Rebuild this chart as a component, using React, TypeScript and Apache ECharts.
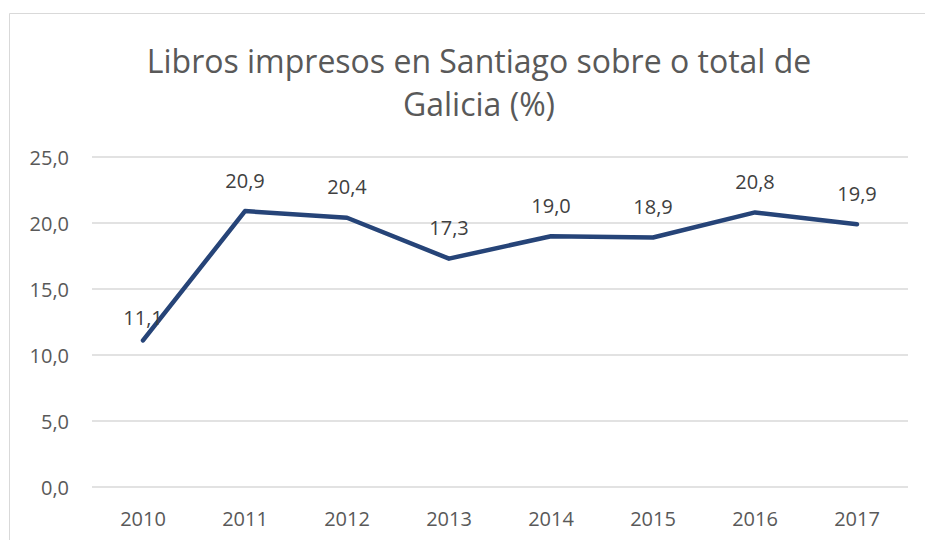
import React, { useEffect, useRef } from "react";
import * as echarts from "echarts";

const titleText = "Libros impresos en Santiago sobre o total de\nGalicia (%)";
const years = ["2010", "2011", "2012", "2013", "2014", "2015", "2016", "2017"];
const shares = [11.1, 20.9, 20.4, 17.3, 19.0, 18.9, 20.8, 19.9];
const yTicks = [0, 5, 10, 15, 20, 25];

const fmt = (v: number) => v.toFixed(1).replace(".", ",");

export default function App() {
  const ref = useRef<HTMLDivElement>(null);
  useEffect(() => {
    if (!ref.current) return;
    const chart = echarts.init(ref.current, null, { renderer: "svg" });
    chart.setOption({
      animation: false,
      backgroundColor: "#ffffff",
      textStyle: { fontFamily: "Open Sans" },
      title: {
        text: titleText,
        left: 474,
        textAlign: "center",
        top: 34,
        textStyle: {
          fontFamily: "Open Sans",
          fontSize: 32,
          fontWeight: "normal",
          color: "#595959",
          lineHeight: 43,
        },
      },
      graphic: [
        {
          type: "rect",
          shape: { x: 9.5, y: 13.5, width: 1000, height: 600 },
          style: { fill: "none", stroke: "#d9d9d9", lineWidth: 1 },
          silent: true,
        },
      ],
      grid: { left: 92, right: 17, top: 157, bottom: 53, containLabel: false },
      xAxis: {
        type: "category",
        data: years,
        boundaryGap: true,
        axisLine: { show: false },
        axisTick: { show: false },
        axisLabel: { color: "#595959", fontSize: 20, margin: 21, fontFamily: "Open Sans" },
      },
      yAxis: {
        type: "value",
        min: yTicks[0],
        max: yTicks[yTicks.length - 1],
        interval: 5,
        axisLine: { show: false },
        axisTick: { show: false },
        splitLine: { lineStyle: { color: "#d9d9d9", width: 1.5 } },
        axisLabel: {
          color: "#595959",
          fontSize: 20,
          margin: 23,
          fontFamily: "Open Sans",
          formatter: (v: number) => fmt(v),
        },
      },
      series: [
        {
          type: "line",
          data: shares.map((v, i) =>
            i === 0 ? { value: v, label: { offset: [0, 8] } } : v
          ),
          symbol: "circle",
          symbolSize: 2,
          showSymbol: true,
          showAllSymbol: true,
          lineStyle: { color: "#264478", width: 4.5, cap: "round", join: "round" },
          itemStyle: { color: "rgba(0,0,0,0)", borderWidth: 0 },
          label: {
            show: true,
            position: "top",
            distance: 20,
            color: "#404040",
            fontSize: 20,
            fontFamily: "Open Sans",
            formatter: (p: any) => fmt(p.value),
          },
        },
      ],
    });
    return () => chart.dispose();
  }, []);
  return (
    <div
      ref={ref}
      style={{ position: "fixed", left: 0, top: 0, width: 925, height: 540 }}
    />
  );
}
